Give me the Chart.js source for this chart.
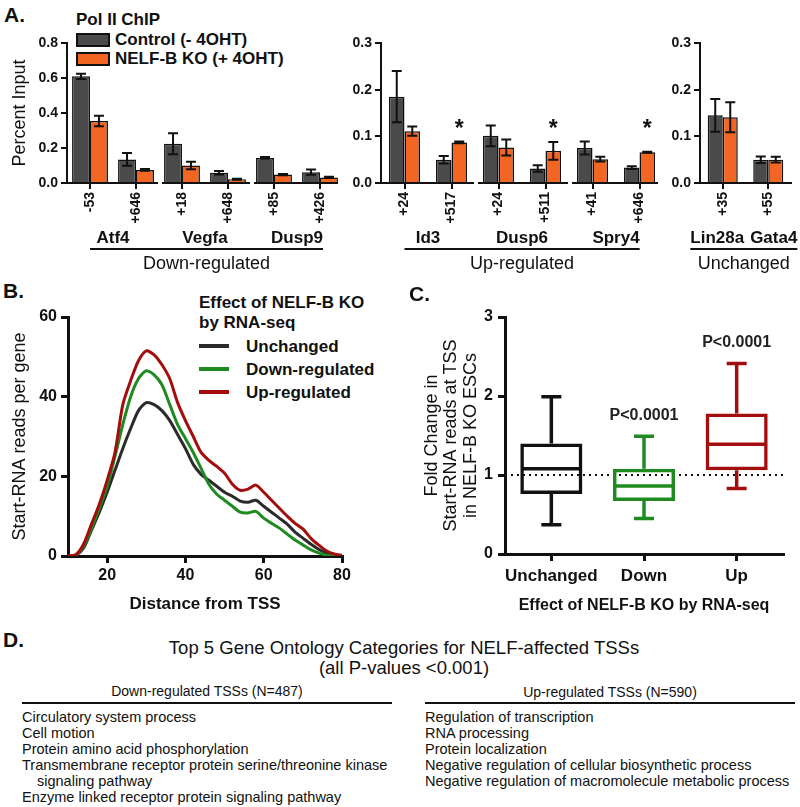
<!DOCTYPE html>
<html>
<head>
<meta charset="utf-8">
<title>NELF-B KO</title>
<script src="https://cdn.jsdelivr.net/npm/chart.js@4.4.1/dist/chart.umd.min.js"></script>
<style>
  body { margin: 0; width: 800px; height: 807px; position: relative; overflow: hidden; background: #fff; color: #111; font-family: "Liberation Sans", Arial, sans-serif; }
  canvas, .txt, .caixa, .traco { position: absolute; }
  .txt { white-space: nowrap; line-height: 1; }
  .painel { font-size: 21px; font-weight: bold; }
  .leg { font-size: 17px; font-weight: bold; }
  .legB { font-size: 17px; font-weight: bold; }
  .go { font-size: 14.5px; }
  .cab { font-size: 14px; }
  .tit { font-size: 18.5px; width: 800px; left: 4px; text-align: center; }
</style>
</head>
<body>

<div class="txt painel" style="left:4px;top:4px">A.</div>
<div class="txt leg" style="left:76px;top:11px">Pol II ChIP</div>
<div class="caixa" style="left:76px;top:33px;width:30px;height:10px;background:#4a4a4a;border:2px solid #111"></div>
<div class="txt leg" style="left:115px;top:31px">Control (- 4OHT)</div>
<div class="caixa" style="left:76px;top:52px;width:30px;height:10px;background:#f26522;border:2px solid #111"></div>
<div class="txt leg" style="left:115px;top:50px">NELF-B KO (+ 4OHT)</div>

<canvas id="graficoDown" width="345" height="275" style="left:0;top:0"></canvas>
<canvas id="graficoUp" width="326" height="275" style="left:340px;top:0"></canvas>
<canvas id="graficoUnch" width="140" height="275" style="left:660px;top:0"></canvas>

<div class="txt painel" style="left:3px;top:280px">B.</div>
<div class="txt legB" style="left:199px;top:294px">Effect of NELF-B KO</div>
<div class="txt legB" style="left:199px;top:314px">by RNA-seq</div>
<div class="traco" style="left:199px;top:344px;width:30px;height:4px;background:#2b2b2b"></div>
<div class="txt legB" style="left:246px;top:338px">Unchanged</div>
<div class="traco" style="left:199px;top:367px;width:30px;height:4px;background:#1f8a1f"></div>
<div class="txt legB" style="left:246px;top:361px">Down-regulated</div>
<div class="traco" style="left:199px;top:390px;width:30px;height:4px;background:#a30d0d"></div>
<div class="txt legB" style="left:246px;top:384px">Up-regulated</div>
<canvas id="graficoLinhas" width="360" height="340" style="left:0;top:280px"></canvas>

<div class="txt painel" style="left:409px;top:283px">C.</div>
<canvas id="graficoCaixa" width="400" height="340" style="left:390px;top:280px"></canvas>

<div class="txt painel" style="left:3px;top:629px">D.</div>
<div class="txt tit" style="top:639px">Top 5 Gene Ontology Categories for NELF-affected TSSs</div>
<div class="txt tit" style="top:659px">(all P-values &lt;0.001)</div>
<div class="txt cab" style="left:22px;width:370px;text-align:center;top:684px">Down-regulated TSSs (N=487)</div>
<div class="txt cab" style="left:425px;width:370px;text-align:center;top:685px">Up-regulated TSSs (N=590)</div>
<div class="traco" style="left:22px;top:702px;width:370px;height:2px;background:#111"></div>
<div class="traco" style="left:425px;top:702px;width:370px;height:2px;background:#111"></div>
<div id="listaDown"></div>
<div id="listaUp"></div>

<script>
// Painel A - Pol II ChIP
const sitiosDown = ['-53', '+646', '+18', '+648', '+85', '+426'];
const genesDown = ['Atf4', 'Vegfa', 'Dusp9'];
const controleDown = [0.61, 0.135, 0.225, 0.058, 0.143, 0.062];
const controleDownErro = [0.015, 0.037, 0.06, 0.01, 0.005, 0.015];
const koDown = [0.355, 0.075, 0.10, 0.022, 0.048, 0.032];
const koDownErro = [0.03, 0.005, 0.022, 0.003, 0.004, 0.004];
const estrelaDown = [false, false, false, false, false, false];

const sitiosUp = ['+24', '+517', '+24', '+511', '+41', '+646'];
const genesUp = ['Id3', 'Dusp6', 'Spry4'];
const controleUp = [0.185, 0.05, 0.101, 0.031, 0.075, 0.033];
const controleUpErro = [0.055, 0.008, 0.022, 0.007, 0.014, 0.003];
const koUp = [0.111, 0.087, 0.076, 0.069, 0.051, 0.066];
const koUpErro = [0.01, 0.002, 0.017, 0.019, 0.005, 0.001];
const estrelaUp = [false, true, false, true, false, true];

const sitiosUnch = ['+35', '+55'];
const genesUnch = ['Lin28a', 'Gata4'];
const controleUnch = [0.145, 0.05];
const controleUnchErro = [0.035, 0.007];
const koUnch = [0.141, 0.05];
const koUnchErro = [0.032, 0.006];
const estrelaUnch = [false, false];

// Painel B - Start-RNA reads per gene
const distancia = [10, 12, 14, 16, 18, 20, 22, 24, 26, 28, 30, 32, 34, 36, 38, 40, 42, 44,
    46, 48, 50, 52, 54, 56, 58, 60, 62, 64, 66, 68, 70, 72, 74, 76, 78, 80];
const unchanged = [0, 0.2, 2, 6.5, 11, 16, 21.5, 27, 32, 36.5, 38.5, 38, 36.5, 34, 30.5, 27, 23, 20.5,
    19, 17.5, 16, 15, 13.8, 13.5, 14, 12.5, 11, 9.5, 8, 6, 4.5, 3, 1.7, 0.8, 0.2, 0];
const downReg = [0, 0.2, 2.5, 7, 12, 17.5, 25, 33, 40, 44.5, 46.5, 45.5, 43, 38, 33, 29.5, 26, 22,
    18, 15.5, 14, 12.5, 11, 10.8, 11.2, 9.5, 8.2, 7, 5.5, 4, 2.8, 1.6, 0.8, 0.2, 0, 0];
const upReg = [0, 0.3, 3, 8, 13, 19, 26, 38, 44, 49, 51.5, 50.5, 48, 44.5, 38.5, 34, 30, 26,
    24, 22.5, 20.8, 18, 16.5, 16.8, 17.8, 16, 14, 12, 10, 8.2, 6.8, 4.5, 2.8, 1.3, 0.5, 0.2];

// Painel C - box plot fold change
const categoriasC = ['Unchanged', 'Down', 'Up'];
const minimoC = [0.37, 0.45, 0.83];
const q1C = [0.76, 0.67, 1.06];
const medianaC = [1.08, 0.86, 1.39];
const q3C = [1.40, 1.08, 1.78];
const maximoC = [1.99, 1.49, 2.41];
const pValorC = ['', 'P<0.0001', 'P<0.0001'];
const coresC = ['#111111', '#1f8a1f', '#a30d0d'];

// Painel D - Gene Ontology
const goDown = ['Circulatory system process', 'Cell motion', 'Protein amino acid phosphorylation',
    'Transmembrane receptor protein serine/threonine kinase', '   signaling pathway',
    'Enzyme linked receptor protein signaling pathway'];
const goUp = ['Regulation of transcription', 'RNA processing', 'Protein localization',
    'Negative regulation of cellular biosynthetic process',
    'Negative regulation of macromolecule metabolic process'];

Chart.defaults.font.family = '"Liberation Sans", Arial, sans-serif';
Chart.defaults.color = '#111';
Chart.defaults.animation = false;
Chart.defaults.responsive = false;
Chart.defaults.plugins.legend.display = false;
Chart.defaults.plugins.tooltip.enabled = false;

const fonte = (size, weight) => ({ size: size, weight: weight, family: '"Liberation Sans", Arial, sans-serif' });

// barras de erro, eixo x quebrado, nomes dos genes e asteriscos
const pluginChip = {
    id: 'chip',
    afterDatasetsDraw(chart, args, opts) {
        const ctx = chart.ctx;
        const y = chart.scales.y;
        ctx.save();
        ctx.strokeStyle = '#111';
        ctx.lineWidth = 2;
        chart.data.datasets.forEach((ds, d) => {
            const meta = chart.getDatasetMeta(d);
            meta.data.forEach((bar, i) => {
                const topo = y.getPixelForValue(ds.data[i] + ds.erro[i]);
                const base = y.getPixelForValue(ds.data[i] - ds.erro[i]);
                ctx.beginPath();
                ctx.moveTo(bar.x, topo); ctx.lineTo(bar.x, base);
                ctx.moveTo(bar.x - 5, topo); ctx.lineTo(bar.x + 5, topo);
                ctx.moveTo(bar.x - 5, base); ctx.lineTo(bar.x + 5, base);
                ctx.stroke();
                if (ds.estrela && ds.estrela[i]) {
                    ctx.fillStyle = '#111';
                    ctx.font = 'bold 23px "Liberation Sans", Arial, sans-serif';
                    ctx.textAlign = 'center';
                    ctx.textBaseline = 'middle';
                    ctx.fillText('*', bar.x, y.getPixelForValue(opts.alturaEstrela) + 3);
                }
            });
        });
        ctx.restore();
    },
    afterDraw(chart, args, opts) {
        const ctx = chart.ctx;
        const x = chart.scales.x;
        const area = chart.chartArea;
        const n = opts.porGene;
        const meio = (area.right - area.left) / x.ticks.length / 2;
        ctx.save();
        ctx.strokeStyle = '#111';
        ctx.fillStyle = '#111';
        ctx.lineWidth = 2;
        ctx.textAlign = 'center';
        ctx.textBaseline = 'middle';
        ctx.font = 'bold 17px "Liberation Sans", Arial, sans-serif';
        if (n === 1) {
            ctx.beginPath();
            ctx.moveTo(area.left - 3, area.bottom); ctx.lineTo(area.right + 1, area.bottom);
            ctx.stroke();
        }
        let esq = Infinity, dir = -Infinity;
        opts.nomes.forEach((nome, g) => {
            const a = x.getPixelForValue(n * g);
            const b = x.getPixelForValue(n * g + n - 1);
            if (n > 1) {
                const ini = g === 0 ? area.left : a - meio + 3;
                const fim = g === opts.nomes.length - 1 ? area.right - 5 : b + meio - 1;
                ctx.beginPath();
                ctx.moveTo(ini, area.bottom); ctx.lineTo(fim, area.bottom);
                ctx.stroke();
            }
            // um sitio por gene: afasta um pouco os nomes para nao encostarem
            const cx = (a + b) / 2 + (n === 1 ? (g - (opts.nomes.length - 1) / 2) * 11 : 0);
            ctx.fillText(nome, cx, area.bottom + 55);
            const w = ctx.measureText(nome).width;
            esq = Math.min(esq, a, cx - w / 2);
            dir = Math.max(dir, b, cx + w / 2);
        });
        ctx.beginPath();
        ctx.moveTo(esq, area.bottom + 66); ctx.lineTo(dir, area.bottom + 66);
        ctx.stroke();
        ctx.font = '18px "Liberation Sans", Arial, sans-serif';
        ctx.fillText(opts.grupo, (esq + dir) / 2, area.bottom + 81);
        ctx.restore();
    }
};

function criarGraficoChip(id, sitios, genes, grupo, controle, controleErro, ko, koErro, estrela, yMax, passo, larguraY, padDir, titulo) {
    const canva = document.getElementById(id).getContext('2d');
    new Chart(canva, {
        type: 'bar',
        data: {
            labels: sitios,
            datasets: [{
                label: 'Control (- 4OHT)',
                data: controle,
                erro: controleErro,
                backgroundColor: '#4a4a4a',
                borderColor: '#111',
                borderWidth: 1.5,
                categoryPercentage: grupo.largura,
                barPercentage: 1
            }, {
                label: 'NELF-B KO (+ 4OHT)',
                data: ko,
                erro: koErro,
                estrela: estrela,
                backgroundColor: '#f26522',
                borderColor: '#111',
                borderWidth: 1.5,
                categoryPercentage: grupo.largura,
                barPercentage: 1
            }]
        },
        options: {
            layout: { padding: { left: 0, top: 43, right: padDir, bottom: 0 } },
            plugins: { chip: { nomes: genes, grupo: grupo.nome, porGene: sitios.length / genes.length, alturaEstrela: 0.12 } },
            scales: {
                x: {
                    afterFit: (s) => { s.height = 92; },
                    ticks: { maxRotation: 90, minRotation: 90, autoSkip: false, font: fonte(14, 'bold'), padding: 3 },
                    grid: { offset: false, drawOnChartArea: false, tickLength: 6, lineWidth: 2, color: '#111' },
                    border: { display: false }
                },
                y: {
                    min: 0,
                    max: yMax,
                    afterFit: (s) => { s.width = larguraY; },
                    ticks: { stepSize: passo, font: fonte(14, 'bold'), padding: 3, callback: (v) => v.toFixed(1) },
                    grid: { drawOnChartArea: false, tickLength: 6, lineWidth: 2, color: '#111' },
                    border: { color: '#111', width: 2 },
                    title: { display: !!titulo, text: titulo, font: fonte(18, 'normal'), padding: { top: 9, bottom: 0 } }
                }
            }
        },
        plugins: [pluginChip]
    });
}

function criarGraficoLinhas() {
    const canva = document.getElementById('graficoLinhas').getContext('2d');
    const serie = (valores) => distancia.map((d, i) => ({ x: d, y: valores[i] }));
    new Chart(canva, {
        type: 'line',
        data: {
            datasets: [
                { label: 'Up-regulated', data: serie(upReg), borderColor: '#a30d0d' },
                { label: 'Down-regulated', data: serie(downReg), borderColor: '#1f8a1f' },
                { label: 'Unchanged', data: serie(unchanged), borderColor: '#2b2b2b' }
            ]
        },
        options: {
            layout: { padding: { left: 0, top: 37, right: 18, bottom: 0 } },
            elements: {
                line: { borderWidth: 3, tension: 0.25, fill: false },
                point: { radius: 0 }
            },
            scales: {
                x: {
                    type: 'linear',
                    min: 10,
                    max: 80,
                    afterFit: (s) => { s.height = 64; },
                    afterBuildTicks: (s) => { s.ticks = s.ticks.filter(t => t.value % 20 === 0); },
                    ticks: { stepSize: 20, font: fonte(16, 'bold'), padding: 3 },
                    grid: { drawOnChartArea: false, tickLength: 7, lineWidth: 3, color: '#111' },
                    border: { color: '#111', width: 3 },
                    title: { display: true, text: 'Distance from TSS', font: fonte(17, 'bold'), padding: { top: 0, bottom: 5 } }
                },
                y: {
                    min: 0,
                    max: 60,
                    afterFit: (s) => { s.width = 68; },
                    ticks: { stepSize: 20, font: fonte(16, 'bold'), padding: 4 },
                    grid: { drawOnChartArea: false, tickLength: 7, lineWidth: 3, color: '#111' },
                    border: { color: '#111', width: 3 },
                    title: { display: true, text: 'Start-RNA reads per gene', font: fonte(18, 'normal'), padding: { top: 9, bottom: 0 } }
                }
            }
        }
    });
}

// bigodes, mediana, linha pontilhada em 1 e valores de P
const pluginCaixa = {
    id: 'caixa',
    beforeDatasetsDraw(chart) {
        const ctx = chart.ctx;
        const area = chart.chartArea;
        const y1 = chart.scales.y.getPixelForValue(1);
        ctx.save();
        ctx.strokeStyle = '#111';
        ctx.lineWidth = 2;
        ctx.setLineDash([2, 4]);
        ctx.beginPath();
        ctx.moveTo(area.left, y1); ctx.lineTo(area.right, y1);
        ctx.stroke();
        ctx.restore();
    },
    afterDatasetsDraw(chart) {
        const ctx = chart.ctx;
        const y = chart.scales.y;
        const meta = chart.getDatasetMeta(0);
        ctx.save();
        ctx.lineWidth = 3.5;
        meta.data.forEach((caixa, i) => {
            const x = caixa.x;
            const meia = caixa.width / 2 - 1.75;
            ctx.strokeStyle = coresC[i];
            ctx.beginPath();
            ctx.moveTo(x, y.getPixelForValue(q3C[i])); ctx.lineTo(x, y.getPixelForValue(maximoC[i]));
            ctx.moveTo(x - 10, y.getPixelForValue(maximoC[i])); ctx.lineTo(x + 10, y.getPixelForValue(maximoC[i]));
            ctx.moveTo(x, y.getPixelForValue(q1C[i])); ctx.lineTo(x, y.getPixelForValue(minimoC[i]));
            ctx.moveTo(x - 10, y.getPixelForValue(minimoC[i])); ctx.lineTo(x + 10, y.getPixelForValue(minimoC[i]));
            ctx.moveTo(x - meia, y.getPixelForValue(medianaC[i])); ctx.lineTo(x + meia, y.getPixelForValue(medianaC[i]));
            ctx.stroke();
            if (pValorC[i]) {
                ctx.fillStyle = '#222';
                ctx.font = 'bold 16px "Liberation Sans", Arial, sans-serif';
                ctx.textAlign = 'center';
                ctx.textBaseline = 'middle';
                ctx.fillText(pValorC[i], x, y.getPixelForValue(maximoC[i]) - 21);
            }
        });
        ctx.restore();
    }
};

function criarGraficoCaixa() {
    const canva = document.getElementById('graficoCaixa').getContext('2d');
    new Chart(canva, {
        type: 'bar',
        data: {
            labels: categoriasC,
            datasets: [{
                label: 'Fold change',
                data: q1C.map((v, i) => [v, q3C[i]]),
                backgroundColor: 'rgba(0,0,0,0)',
                borderColor: coresC,
                borderWidth: 3.5,
                borderSkipped: false,
                categoryPercentage: 1,
                barPercentage: 0.67
            }]
        },
        options: {
            layout: { padding: { left: 0, top: 37, right: 7, bottom: 0 } },
            scales: {
                x: {
                    afterFit: (s) => { s.height = 66; },
                    ticks: { maxRotation: 0, minRotation: 0, autoSkip: false, font: fonte(17, 'bold'), padding: 5 },
                    grid: { offset: false, drawOnChartArea: false, tickLength: 7, lineWidth: 3, color: '#111' },
                    border: { color: '#111', width: 3 },
                    title: { display: true, text: 'Effect of NELF-B KO by RNA-seq', font: fonte(16, 'bold'), padding: { top: 0, bottom: 5 } }
                },
                y: {
                    min: 0,
                    max: 3,
                    afterFit: (s) => { s.width = 115; },
                    ticks: { stepSize: 1, font: fonte(16, 'bold'), padding: 5 },
                    grid: { drawOnChartArea: false, tickLength: 7, lineWidth: 3, color: '#111' },
                    border: { color: '#111', width: 3 },
                    title: {
                        display: true,
                        text: ['Fold Change in', 'Start-RNA reads at TSS', 'in NELF-B KO ESCs'],
                        font: { size: 18, weight: 'normal', lineHeight: 1.08, family: '"Liberation Sans", Arial, sans-serif' },
                        padding: { top: 32, bottom: 0 }
                    }
                }
            }
        },
        plugins: [pluginCaixa]
    });
}

function escreverLista(id, itens, esquerda) {
    const div = document.getElementById(id);
    itens.forEach((item, i) => {
        const linha = document.createElement('div');
        linha.className = 'txt go';
        const recuo = item.startsWith('   ') ? 15 : 0;
        linha.style.left = (esquerda + recuo) + 'px';
        linha.style.top = (710 + i * 16) + 'px';
        linha.textContent = item.trim();
        div.appendChild(linha);
    });
}

criarGraficoChip('graficoDown', sitiosDown, genesDown, { largura: 0.78, nome: 'Down-regulated' },
    controleDown, controleDownErro, koDown, koDownErro, estrelaDown, 0.8, 0.2, 67, 2, 'Percent Input');
criarGraficoChip('graficoUp', sitiosUp, genesUp, { largura: 0.66, nome: 'Up-regulated' },
    controleUp, controleUpErro, koUp, koUpErro, estrelaUp, 0.3, 0.1, 41, 3, '');
criarGraficoChip('graficoUnch', sitiosUnch, genesUnch, { largura: 0.66, nome: 'Unchanged' },
    controleUnch, controleUnchErro, koUnch, koUnchErro, estrelaUnch, 0.3, 0.1, 40, 9, '');
criarGraficoLinhas();
criarGraficoCaixa();
escreverLista('listaDown', goDown, 22);
escreverLista('listaUp', goUp, 425);
</script>
</body>
</html>
